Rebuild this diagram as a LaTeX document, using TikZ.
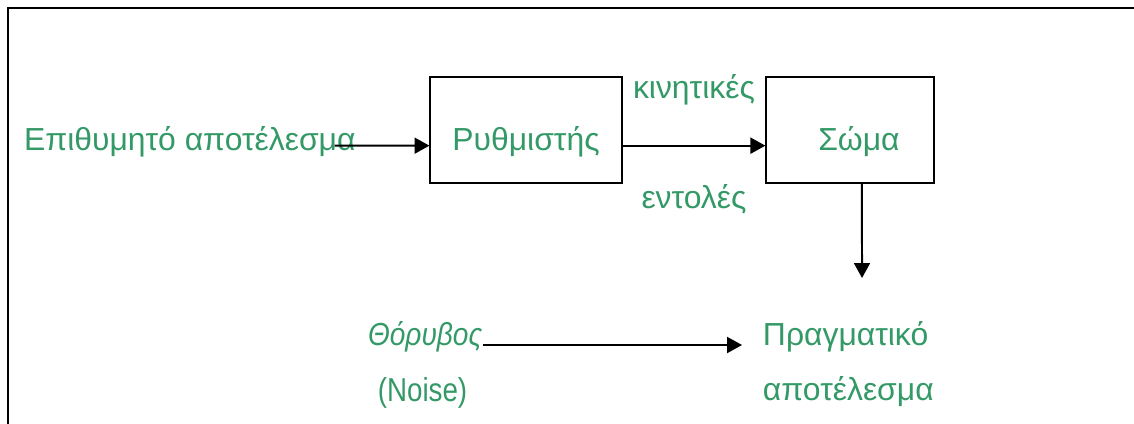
\documentclass[tikz,border=0pt]{standalone}
\usepackage{fontspec}
\setmainfont{Liberation Sans}
\usetikzlibrary{arrows.meta}
\definecolor{sgreen}{HTML}{339966}
\begin{document}
\begin{tikzpicture}[>={Triangle[length=7.5pt,width=8pt]},line width=1pt,
  every node/.style={font=\fontsize{16pt}{19pt}\selectfont,text=sgreen,inner sep=0pt},
  b/.style={draw=black,line width=.9pt,text height=37pt,text depth=16pt}]
\useasboundingbox (0,0) rectangle (20,-7.478);
\draw[line width=1.3pt] (0.141,-7.478)--(0.141,-0.141)--(20,-0.141);
\node[b,minimum width=96pt] (ctrl) at (9.277,-2.293) {Ρυθμιστής};
\node[b,minimum width=84pt] (body) at (14.991,-2.293) {\hspace*{9pt}Σώμα};
\node[anchor=base west] (goal) at (0.406,-2.663) {Επιθυμητό αποτέλεσμα};
\node[anchor=base west] (noise) at (6.473,-6.085) {\scalebox{.88}[1]{\itshape Θόρυβος}};
\node[anchor=base] (noiseen) at (7.452,-7.090) {\scalebox{.87}[1.04]{(Noise)}};
\node[anchor=base west] (real) at (13.439,-6.085) {Πραγματικό};
\node[anchor=base west] (realb) at (13.439,-7.055) {αποτέλεσμα};
\coordinate (out) at (15.203,-4.903);
\draw[->] ([xshift=-11pt]goal.mid east)--(ctrl.mid west);
\draw[->] (ctrl.mid east)--node[above=20pt]{κινητικές}node[below=19pt]{εντολές}(body.mid west);
\draw[->] ([xshift=6pt]body.south)--(out);
\draw[->,shorten >=10pt] (noise.base east)--(real.base west);
\end{tikzpicture}
\end{document}
